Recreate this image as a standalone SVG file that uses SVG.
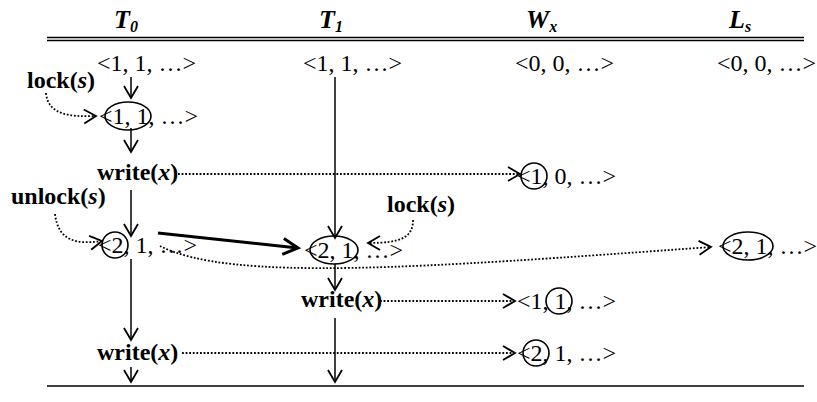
<svg xmlns="http://www.w3.org/2000/svg" width="817" height="402" viewBox="0 0 817 402">
<style>
text{font-family:"Liberation Serif","Times New Roman",serif;fill:#000}
.h{font-size:26px;font-weight:bold;font-style:italic}
.sub{font-size:16px}
.v{font-size:24px}
.lb{font-size:24px;font-weight:bold}
.it{font-style:italic}
.rule{stroke:#000;stroke-width:1.4;fill:none}
.ring{fill:none;stroke:#000;stroke-width:1.6}
.solid{fill:none;stroke:#000;stroke-width:1.5;marker-end:url(#ah)}
.thick{fill:none;stroke:#000;stroke-width:3;marker-end:url(#ahT)}
.dot{fill:none;stroke:#000;stroke-width:1.8;stroke-dasharray:1.8 1.8;marker-end:url(#ah)}
</style>
<defs>
<marker id="ah" markerUnits="userSpaceOnUse" viewBox="0 0 13 14" refX="12" refY="7" markerWidth="13" markerHeight="14" orient="auto" overflow="visible">
<path d="M0,0 L12,7 L0,14" fill="none" stroke="#000" stroke-width="1.8"/>
</marker>
<marker id="ahT" markerUnits="userSpaceOnUse" viewBox="0 0 16 16" refX="15" refY="8" markerWidth="16" markerHeight="16" orient="auto" overflow="visible">
<path d="M0,0 L15,8 L0,16" fill="none" stroke="#000" stroke-width="3"/>
</marker>
</defs>

<g id="rules">
<line class="rule" x1="47" y1="37.5" x2="804" y2="37.5"/>
<line class="rule" x1="47" y1="40.5" x2="804" y2="40.5"/>
<line class="rule" x1="47" y1="386" x2="804" y2="386" stroke-width="1.6"/>
</g>

<g id="headers">
<text class="h" x="114" y="28">T<tspan class="sub" dy="4">0</tspan></text>
<text class="h" x="319" y="28">T<tspan class="sub" dy="4">1</tspan></text>
<text class="h" x="526" y="28">W<tspan class="sub" dy="4">x</tspan></text>
<text class="h" x="729" y="28">L<tspan class="sub" dy="4">s</tspan></text>
</g>

<g id="t0-init"><text class="v" x="97" y="71">&lt;1, 1, …&gt;</text></g>
<g id="t1-init"><text class="v" x="303" y="71">&lt;1, 1, …&gt;</text></g>
<g id="wx-init"><text class="v" x="515" y="71">&lt;0, 0, …&gt;</text></g>
<g id="ls-init"><text class="v" x="717" y="71">&lt;0, 0, …&gt;</text></g>

<g id="t0-lock"><text class="lb" x="27" y="88">lock(<tspan class="it">s</tspan>)</text></g>
<g id="t0-state2">
<text class="v" x="99" y="124">&lt;1, 1, …&gt;</text>
<ellipse class="ring" cx="128" cy="116" rx="23" ry="14"/>
</g>
<g id="t0-write1"><text class="lb" x="97" y="180">write(<tspan class="it">x</tspan>)</text></g>
<g id="wx-state2">
<text class="v" x="517" y="184">&lt;1, 0, …&gt;</text>
<circle class="ring" cx="534" cy="176" r="13"/>
</g>
<g id="t0-unlock"><text class="lb" x="11" y="204">unlock(<tspan class="it">s</tspan>)</text></g>
<g id="t0-state3">
<text class="v" x="98" y="253">&lt;2, 1, …&gt;</text>
<circle class="ring" cx="115" cy="245" r="13"/>
</g>
<g id="t1-lock"><text class="lb" x="387" y="212">lock(<tspan class="it">s</tspan>)</text></g>
<g id="t1-state2">
<text class="v" x="304" y="258">&lt;2, 1, …&gt;</text>
<ellipse class="ring" cx="334" cy="250" rx="24" ry="14"/>
</g>
<g id="ls-state2">
<text class="v" x="718" y="254">&lt;2, 1, …&gt;</text>
<ellipse class="ring" cx="748" cy="246" rx="25" ry="14"/>
</g>
<g id="t1-write"><text class="lb" x="301" y="307">write(<tspan class="it">x</tspan>)</text></g>
<g id="wx-state3">
<text class="v" x="517" y="309">&lt;1, 1, …&gt;</text>
<circle class="ring" cx="559" cy="301" r="13"/>
</g>
<g id="t0-write2"><text class="lb" x="97" y="360">write(<tspan class="it">x</tspan>)</text></g>
<g id="wx-state4">
<text class="v" x="517" y="361">&lt;2, 1, …&gt;</text>
<circle class="ring" cx="536" cy="353" r="13"/>
</g>

<g id="connectors">
<line class="solid" x1="131" y1="77" x2="131" y2="98"/>
<line class="solid" x1="131" y1="128" x2="131" y2="152"/>
<line class="solid" x1="131" y1="190" x2="131" y2="236"/>
<line class="solid" x1="131" y1="259" x2="131" y2="340"/>
<line class="solid" x1="131" y1="367" x2="131" y2="382"/>
<line class="solid" x1="335" y1="77" x2="335" y2="238"/>
<line class="solid" x1="335" y1="264" x2="335" y2="290"/>
<line class="solid" x1="335" y1="318" x2="335" y2="382"/>
<line class="thick" x1="158" y1="233" x2="298" y2="248"/>
<path class="dot" d="M46,93 C48,115 70,117 96,116"/>
<path class="dot" d="M178,174 L520,174"/>
<path class="dot" d="M55,214 C58,240 75,245 102,241"/>
<path class="dot" d="M413,220 C413,238 400,243 368,243"/>
<path class="dot" d="M160,246 C230,282 420,268 711,247"/>
<path class="dot" d="M380,301 L515,301"/>
<path class="dot" d="M182,353 L515,353"/>
</g>
</svg>
